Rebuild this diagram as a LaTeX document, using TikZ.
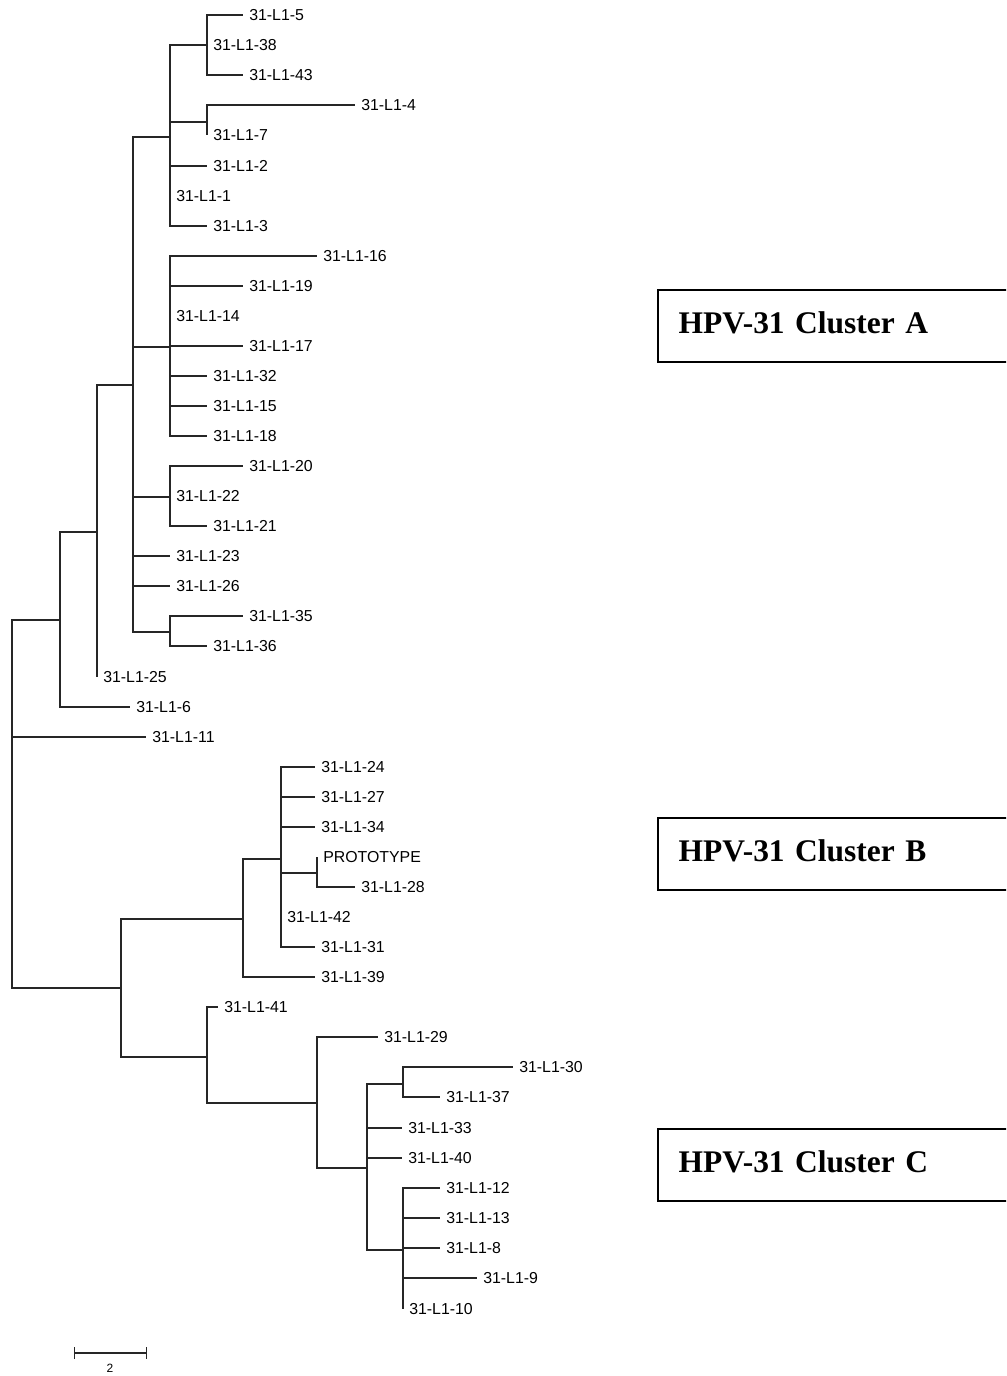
\documentclass[tikz,border=0pt]{standalone}
\usepackage{fontspec}
\setmainfont{Liberation Sans}
\newfontfamily\clusterfont{Liberation Serif}
\usetikzlibrary{arrows.meta}
\tikzset{
  leaf/.style={anchor=west, inner xsep=4.5pt, inner ysep=1pt, font=\fontsize{11.9}{13}\selectfont},
  branch/.style={line width=0.9pt, draw=black!85},
  cluster/.style={draw, line width=1.5pt, anchor=west, align=left, text width=239pt, inner xsep=15.5pt,
                  text height=16pt, text depth=4.5pt, minimum height=54pt,
                  font=\clusterfont\bfseries\fontsize{23.6}{28}\selectfont},
  scalebar/.style={line width=0.9pt, draw=black!85, {Bar[width=9pt]}-{Bar[width=9pt]}},
}

\begin{document}
\begin{tikzpicture}[x=0.75pt, y=-0.75pt]
  \useasboundingbox (0,0) rectangle (1006,1376);
  \clip (0,0) rectangle (1006,1376);
  % inner nodes of the tree
  \coordinate (nA1) at (207,45);  \coordinate (nA2) at (207,122);
  \coordinate (nA3) at (170,137); \coordinate (nA4) at (170,347);
  \coordinate (nA5) at (170,497); \coordinate (nA6) at (170,632);
  \coordinate (nA7) at (133,385); \coordinate (nA8) at (97,532);
  \coordinate (nA9) at (60,620);  \coordinate (root) at (12,800);
  \coordinate (nB1) at (317,873); \coordinate (nB2) at (281,859);
  \coordinate (nB3) at (243,919); \coordinate (nBC) at (121,988);
  \coordinate (nC1) at (403,1084); \coordinate (nC2) at (403,1250);
  \coordinate (nC3) at (367,1168); \coordinate (nC4) at (317,1103);
  \coordinate (nC5) at (207,1057);
  % leaves, cluster A
  \node[leaf] (l5) at (243,15) {31-L1-5};
  \node[leaf] (l38) at (207,45) {31-L1-38};
  \node[leaf] (l43) at (243,75) {31-L1-43};
  \node[leaf] (l4) at (355,105) {31-L1-4};
  \node[leaf] (l7) at (207,135) {31-L1-7};
  \node[leaf] (l2) at (207,166) {31-L1-2};
  \node[leaf] (l1) at (170,196) {31-L1-1};
  \node[leaf] (l3) at (207,226) {31-L1-3};
  \node[leaf] (l16) at (317,256) {31-L1-16};
  \node[leaf] (l19) at (243,286) {31-L1-19};
  \node[leaf] (l14) at (170,316) {31-L1-14};
  \node[leaf] (l17) at (243,346) {31-L1-17};
  \node[leaf] (l32) at (207,376) {31-L1-32};
  \node[leaf] (l15) at (207,406) {31-L1-15};
  \node[leaf] (l18) at (207,436) {31-L1-18};
  \node[leaf] (l20) at (243,466) {31-L1-20};
  \node[leaf] (l22) at (170,496) {31-L1-22};
  \node[leaf] (l21) at (207,526) {31-L1-21};
  \node[leaf] (l23) at (170,556) {31-L1-23};
  \node[leaf] (l26) at (170,586) {31-L1-26};
  \node[leaf] (l35) at (243,616) {31-L1-35};
  \node[leaf] (l36) at (207,646) {31-L1-36};
  \node[leaf] (l25) at (97,677) {31-L1-25};
  \node[leaf] (l6) at (130,707) {31-L1-6};
  \node[leaf] (l11) at (146,737) {31-L1-11};
  % leaves, cluster B
  \node[leaf] (l24) at (315,767) {31-L1-24};
  \node[leaf] (l27) at (315,797) {31-L1-27};
  \node[leaf] (l34) at (315,827) {31-L1-34};
  \node[leaf] (lP) at (317,857) {PROTOTYPE};
  \node[leaf] (l28) at (355,887) {31-L1-28};
  \node[leaf] (l42) at (281,917) {31-L1-42};
  \node[leaf] (l31) at (315,947) {31-L1-31};
  \node[leaf] (l39) at (315,977) {31-L1-39};
  % leaves, cluster C
  \node[leaf] (l41) at (218,1007) {31-L1-41};
  \node[leaf] (l29) at (378,1037) {31-L1-29};
  \node[leaf] (l30) at (513,1067) {31-L1-30};
  \node[leaf] (l37) at (440,1097) {31-L1-37};
  \node[leaf] (l33) at (402,1128) {31-L1-33};
  \node[leaf] (l40) at (402,1158) {31-L1-40};
  \node[leaf] (l12) at (440,1188) {31-L1-12};
  \node[leaf] (l13) at (440,1218) {31-L1-13};
  \node[leaf] (l8) at (440,1248) {31-L1-8};
  \node[leaf] (l9) at (477,1278) {31-L1-9};
  \node[leaf] (l10) at (403,1309) {31-L1-10};
  % branches
  \draw[branch] (nA1) |- (l5.west) (nA1) |- (l43.west);
  \draw[branch] (nA2) |- (l4.west) (nA2) |- (l7.west);
  \draw[branch] (nA3) |- (nA1) (nA3) |- (nA2) (nA3) |- (l2.west) (nA3) |- (l3.west);
  \draw[branch] (nA4) |- (l16.west) (nA4) |- (l19.west) (nA4) |- (l17.west) (nA4) |- (l32.west) (nA4) |- (l15.west) (nA4) |- (l18.west);
  \draw[branch] (nA5) |- (l20.west) (nA5) |- (l21.west);
  \draw[branch] (nA6) |- (l35.west) (nA6) |- (l36.west);
  \draw[branch] (nA7) |- (nA3) (nA7) |- (nA4) (nA7) |- (nA5) (nA7) |- (l23.west) (nA7) |- (l26.west) (nA7) |- (nA6);
  \draw[branch] (nA8) |- (nA7) (nA8) |- (l25.west);
  \draw[branch] (nA9) |- (nA8) (nA9) |- (l6.west);
  \draw[branch] (root) |- (nA9) (root) |- (l11.west) (root) |- (nBC);
  \draw[branch] (nB1) |- (lP.west) (nB1) |- (l28.west);
  \draw[branch] (nB2) |- (l24.west) (nB2) |- (l27.west) (nB2) |- (l34.west) (nB2) |- (nB1) (nB2) |- (l31.west);
  \draw[branch] (nB3) |- (nB2) (nB3) |- (l39.west);
  \draw[branch] (nBC) |- (nB3) (nBC) |- (nC5);
  \draw[branch] (nC1) |- (l30.west) (nC1) |- (l37.west);
  \draw[branch] (nC2) |- (l12.west) (nC2) |- (l13.west) (nC2) |- (l8.west) (nC2) |- (l9.west) (nC2) |- (l10.west);
  \draw[branch] (nC3) |- (nC1) (nC3) |- (l33.west) (nC3) |- (l40.west) (nC3) |- (nC2);
  \draw[branch] (nC4) |- (l29.west) (nC4) |- (nC3);
  \draw[branch] (nC5) |- (l41.west) (nC5) |- (nC4);
  % cluster labels
  \node[cluster] (cA) at (657,326) {HPV-31 Cluster A};
  \node[cluster] (cB) at (657,854) {HPV-31 Cluster B};
  \node[cluster] (cC) at (657,1165) {HPV-31 Cluster C};
  % scale bar
  \coordinate (sb1) at (74,1353); \coordinate (sb2) at (147,1353);
  \draw[scalebar] (sb1) -- (sb2);
  \node[font=\fontsize{9}{10}\selectfont, inner sep=1pt] (sblab) at (110,1368) {2};
\end{tikzpicture}
\end{document}
